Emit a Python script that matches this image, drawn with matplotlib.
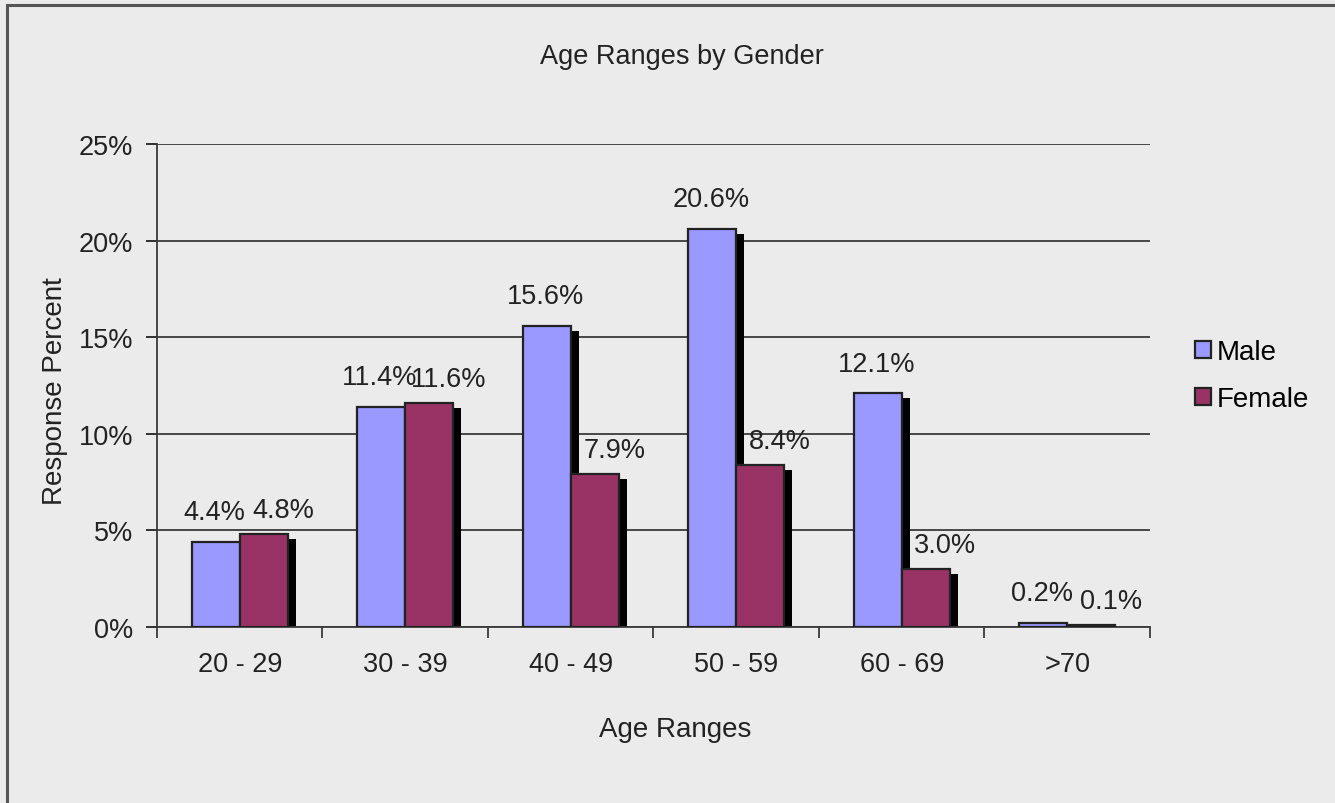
import matplotlib.pyplot as plt
import numpy as np
from matplotlib.patches import Rectangle

plt.rcParams['font.family'] = ['Liberation Sans', 'DejaVu Sans']

# data
age_ranges = ['20 - 29', '30 - 39', '40 - 49', '50 - 59', '60 - 69', '>70']
male = [4.4, 11.4, 15.6, 20.6, 12.1, 0.2]
female = [4.8, 11.6, 7.9, 8.4, 3.0, 0.1]

bg = '#ebebeb'
male_color = '#9999ff'
female_color = '#993366'
txt = '#222222'

fig = plt.figure(figsize=(13.35, 8.04), dpi=100, facecolor=bg)
ax = fig.add_axes([0.1176, 0.2189, 0.7438, 0.6008])
ax.set_facecolor(bg)

# outer frame around the chart
fig.patches.append(Rectangle((0.005, -0.05), 1.2, 1.043, transform=fig.transFigure,
                             fill=False, edgecolor='#555555', linewidth=2.2))

x = np.arange(len(age_ranges))
w = 0.29

# drop shadows
sdx, sdy = 0.048, 0.26
ax.bar(x - w / 2 + sdx, np.maximum(np.array(male) - sdy, 0), w, color='black', zorder=2)
ax.bar(x + w / 2 + sdx, np.maximum(np.array(female) - sdy, 0), w, color='black', zorder=2)

mb = ax.bar(x - w / 2, male, w, color=male_color, edgecolor=txt, linewidth=1.6,
            label='Male', zorder=3)
fb = ax.bar(x + w / 2, female, w, color=female_color, edgecolor=txt, linewidth=1.6,
            label='Female', zorder=3)

for bars, vals, off in ((mb, male, (-1, 12)), (fb, female, (14, 8))):
    for b, v in zip(bars, vals):
        ax.annotate(f'{v:.1f}%', (b.get_x() + b.get_width() / 2, v),
                    xytext=off, textcoords='offset points',
                    ha='center', va='bottom', fontsize=19.5, color=txt, zorder=5)

ax.set_xlim(-0.5, len(age_ranges) - 0.5)
ax.set_ylim(0, 25)
ax.set_yticks(np.arange(0, 26, 5))
ax.set_yticklabels([f'{t}%' for t in range(0, 26, 5)])
ax.yaxis.grid(True, color='#3a3a3a', linewidth=1.3, zorder=0)
ax.set_axisbelow(True)

ax.set_xticks(x)
ax.set_xticklabels(age_ranges)
ax.set_xticks(np.arange(-0.5, len(age_ranges)), minor=True)
ax.tick_params(axis='x', which='major', length=0, labelsize=19.5, pad=17, colors=txt)
ax.tick_params(axis='x', which='minor', length=8, width=1.3, color='#3a3a3a')
ax.tick_params(axis='y', length=8, width=1.3, labelsize=19.5, pad=9, colors=txt)

for s in ('top', 'right'):
    ax.spines[s].set_visible(False)
for s in ('left', 'bottom'):
    ax.spines[s].set_color('#3a3a3a')
    ax.spines[s].set_linewidth(1.3)

ax.set_xlabel('Age Ranges', fontsize=20, color=txt)
ax.xaxis.set_label_coords(0.522, -0.185)
ax.set_ylabel('Response Percent', fontsize=20, color=txt)
ax.yaxis.set_label_coords(-0.09, 0.49)
fig.text(0.511, 0.929, 'Age Ranges by Gender', ha='center', va='center',
         fontsize=19.5, color=txt)

leg = ax.legend(loc='center left', bbox_to_anchor=(1.02, 0.52), frameon=False,
                fontsize=20, handlelength=0.6, handleheight=0.6, handletextpad=0.2,
                labelspacing=0.75)

fig.savefig('out.png', dpi=100, facecolor=bg)
